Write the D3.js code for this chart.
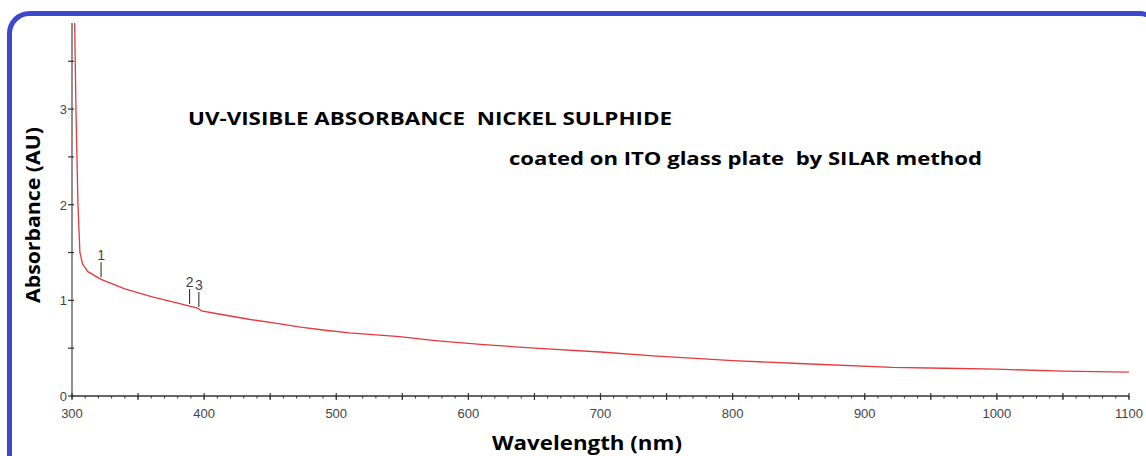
<!DOCTYPE html>
<html>
<head>
<meta charset="utf-8">
<script src="https://cdn.jsdelivr.net/npm/d3@7"></script>
<style>
  body{margin:0;background:#fff;}
  svg{display:block;}
  text{white-space:pre;}
</style>
</head>
<body>
<div id="chart"></div>
<script>
// spectrum
var wavelength = [301,302,303,304.5,306,308,312,322,340,360,380,389,395,398,410,435,455,473,490,510,530,548,575,609,650,700,740,775,800,850,921,960,1000,1050,1100];
var absorbance = [4.2,3.9,3.0,2.0,1.5,1.38,1.3,1.22,1.12,1.04,0.97,0.94,0.92,0.89,0.86,0.80,0.76,0.72,0.69,0.66,0.64,0.62,0.58,0.54,0.50,0.46,0.42,0.39,0.37,0.34,0.30,0.29,0.28,0.26,0.25];
var peakLabels = ["1","2","3"];
var peakWl = [322,389,396];
var peakAbs = [1.22,0.94,0.91];
var xTickLabels = [300,400,500,600,700,800,900,1000,1100];
var yTickLabels = [0,1,2,3];

var W = 1146, H = 456;
var svg = d3.select("#chart").append("svg").attr("width",W).attr("height",H);

// blue rounded frame
svg.append("rect")
  .attr("x",9.5).attr("y",13.5).attr("width",1150).attr("height",470)
  .attr("rx",20).attr("ry",20)
  .attr("fill","none").attr("stroke","#3f48cc").attr("stroke-width",5);

var x = d3.scaleLinear().domain([300,1100]).range([72,1129]);
var y = d3.scaleLinear().domain([0,3.9]).range([396,23]);

// y axis line + ticks
var yAx = svg.append("g").attr("class","yAxis");
yAx.append("line").attr("x1",x(300)).attr("x2",x(300)).attr("y1",y(3.9)).attr("y2",y(0))
  .attr("stroke","#555").attr("stroke-width",1.3);
yAx.selectAll(".ymin").data([0,0.5,1,1.5,2,2.5,3,3.5]).enter().append("line")
  .attr("x1",x(300)-4).attr("x2",x(300)+2)
  .attr("y1",function(d){return y(d);}).attr("y2",function(d){return y(d);})
  .attr("stroke","#333").attr("stroke-width",1.2);
yAx.selectAll(".ylab").data(yTickLabels).enter().append("text")
  .attr("x",x(300)-5).attr("y",function(d){return y(d)+5;})
  .attr("text-anchor","end")
  .style("font-family","Liberation Sans, Arial, sans-serif").style("font-size","13px").style("fill","#444")
  .text(function(d){return d;});

// x axis line + ticks
var xAx = svg.append("g").attr("class","xAxis");
xAx.append("line").attr("x1",x(300)).attr("x2",x(1100)).attr("y1",y(0)).attr("y2",y(0))
  .attr("stroke","#333").attr("stroke-width",1.3);
xAx.selectAll(".xminor").data(d3.range(300,1101,10)).enter().append("line")
  .attr("x1",function(d){return x(d);}).attr("x2",function(d){return x(d);})
  .attr("y1",y(0)).attr("y2",y(0)+2.5)
  .attr("stroke","#333").attr("stroke-width",1);
xAx.selectAll(".xmajor").data(d3.range(300,1101,50)).enter().append("line")
  .attr("x1",function(d){return x(d);}).attr("x2",function(d){return x(d);})
  .attr("y1",y(0)-3).attr("y2",y(0)+4)
  .attr("stroke","#333").attr("stroke-width",1.2);
xAx.selectAll(".xlab").data(xTickLabels).enter().append("text")
  .attr("x",function(d){return x(d);}).attr("y",y(0)+22)
  .attr("text-anchor","middle")
  .style("font-family","Liberation Sans, Arial, sans-serif").style("font-size","13px").style("fill","#444")
  .text(function(d){return d;});

// spectrum
svg.append("clipPath").attr("id","plotclip").append("rect")
  .attr("x",x(300)).attr("y",y(3.9)).attr("width",x(1100)-x(300)).attr("height",y(0)-y(3.9));
var pts = wavelength.map(function(w,i){return [w,absorbance[i]];});
svg.append("path").datum(pts)
  .attr("clip-path","url(#plotclip)")
  .attr("fill","none").attr("stroke","#e8383d").attr("stroke-width",1.3)
  .attr("d",d3.line().x(function(d){return x(d[0]);}).y(function(d){return y(d[1]);}));

// peak markers
var pk = svg.selectAll(".peak").data(peakLabels).enter().append("g").attr("class","peak");
pk.append("line")
  .attr("x1",function(d,i){return x(peakWl[i]);}).attr("x2",function(d,i){return x(peakWl[i]);})
  .attr("y1",function(d,i){return y(peakAbs[i])-2;}).attr("y2",function(d,i){return y(peakAbs[i])-17;})
  .attr("stroke","#333").attr("stroke-width",1.1);
pk.append("text")
  .attr("x",function(d,i){return x(peakWl[i]);}).attr("y",function(d,i){return y(peakAbs[i])-19;})
  .attr("text-anchor","middle")
  .style("font-family","Liberation Sans, Arial, sans-serif").style("font-size","14px").style("fill","#444")
  .text(function(d){return d;});

// titles
svg.append("text").attr("x",188).attr("y",125)
  .style("font-family","Open Sans, sans-serif").style("font-weight","bold").style("font-size","18px")
  .attr("textLength",484).attr("lengthAdjust","spacingAndGlyphs")
  .text("UV-VISIBLE ABSORBANCE  NICKEL SULPHIDE");
svg.append("text").attr("x",509).attr("y",165)
  .style("font-family","Open Sans, sans-serif").style("font-weight","bold").style("font-size","18px")
  .attr("textLength",473).attr("lengthAdjust","spacingAndGlyphs")
  .text("coated on ITO glass plate  by SILAR method");

// axis titles
svg.append("text").attr("transform","translate(40,215) rotate(-90)")
  .attr("text-anchor","middle")
  .style("font-family","Open Sans, sans-serif").style("font-weight","bold").style("font-size","20px")
  .attr("textLength",176).attr("lengthAdjust","spacingAndGlyphs")
  .text("Absorbance (AU)");
svg.append("text").attr("x",587).attr("y",450)
  .attr("text-anchor","middle")
  .style("font-family","Open Sans, sans-serif").style("font-weight","bold").style("font-size","19px")
  .attr("textLength",190).attr("lengthAdjust","spacingAndGlyphs")
  .text("Wavelength (nm)");
</script>
</body>
</html>
